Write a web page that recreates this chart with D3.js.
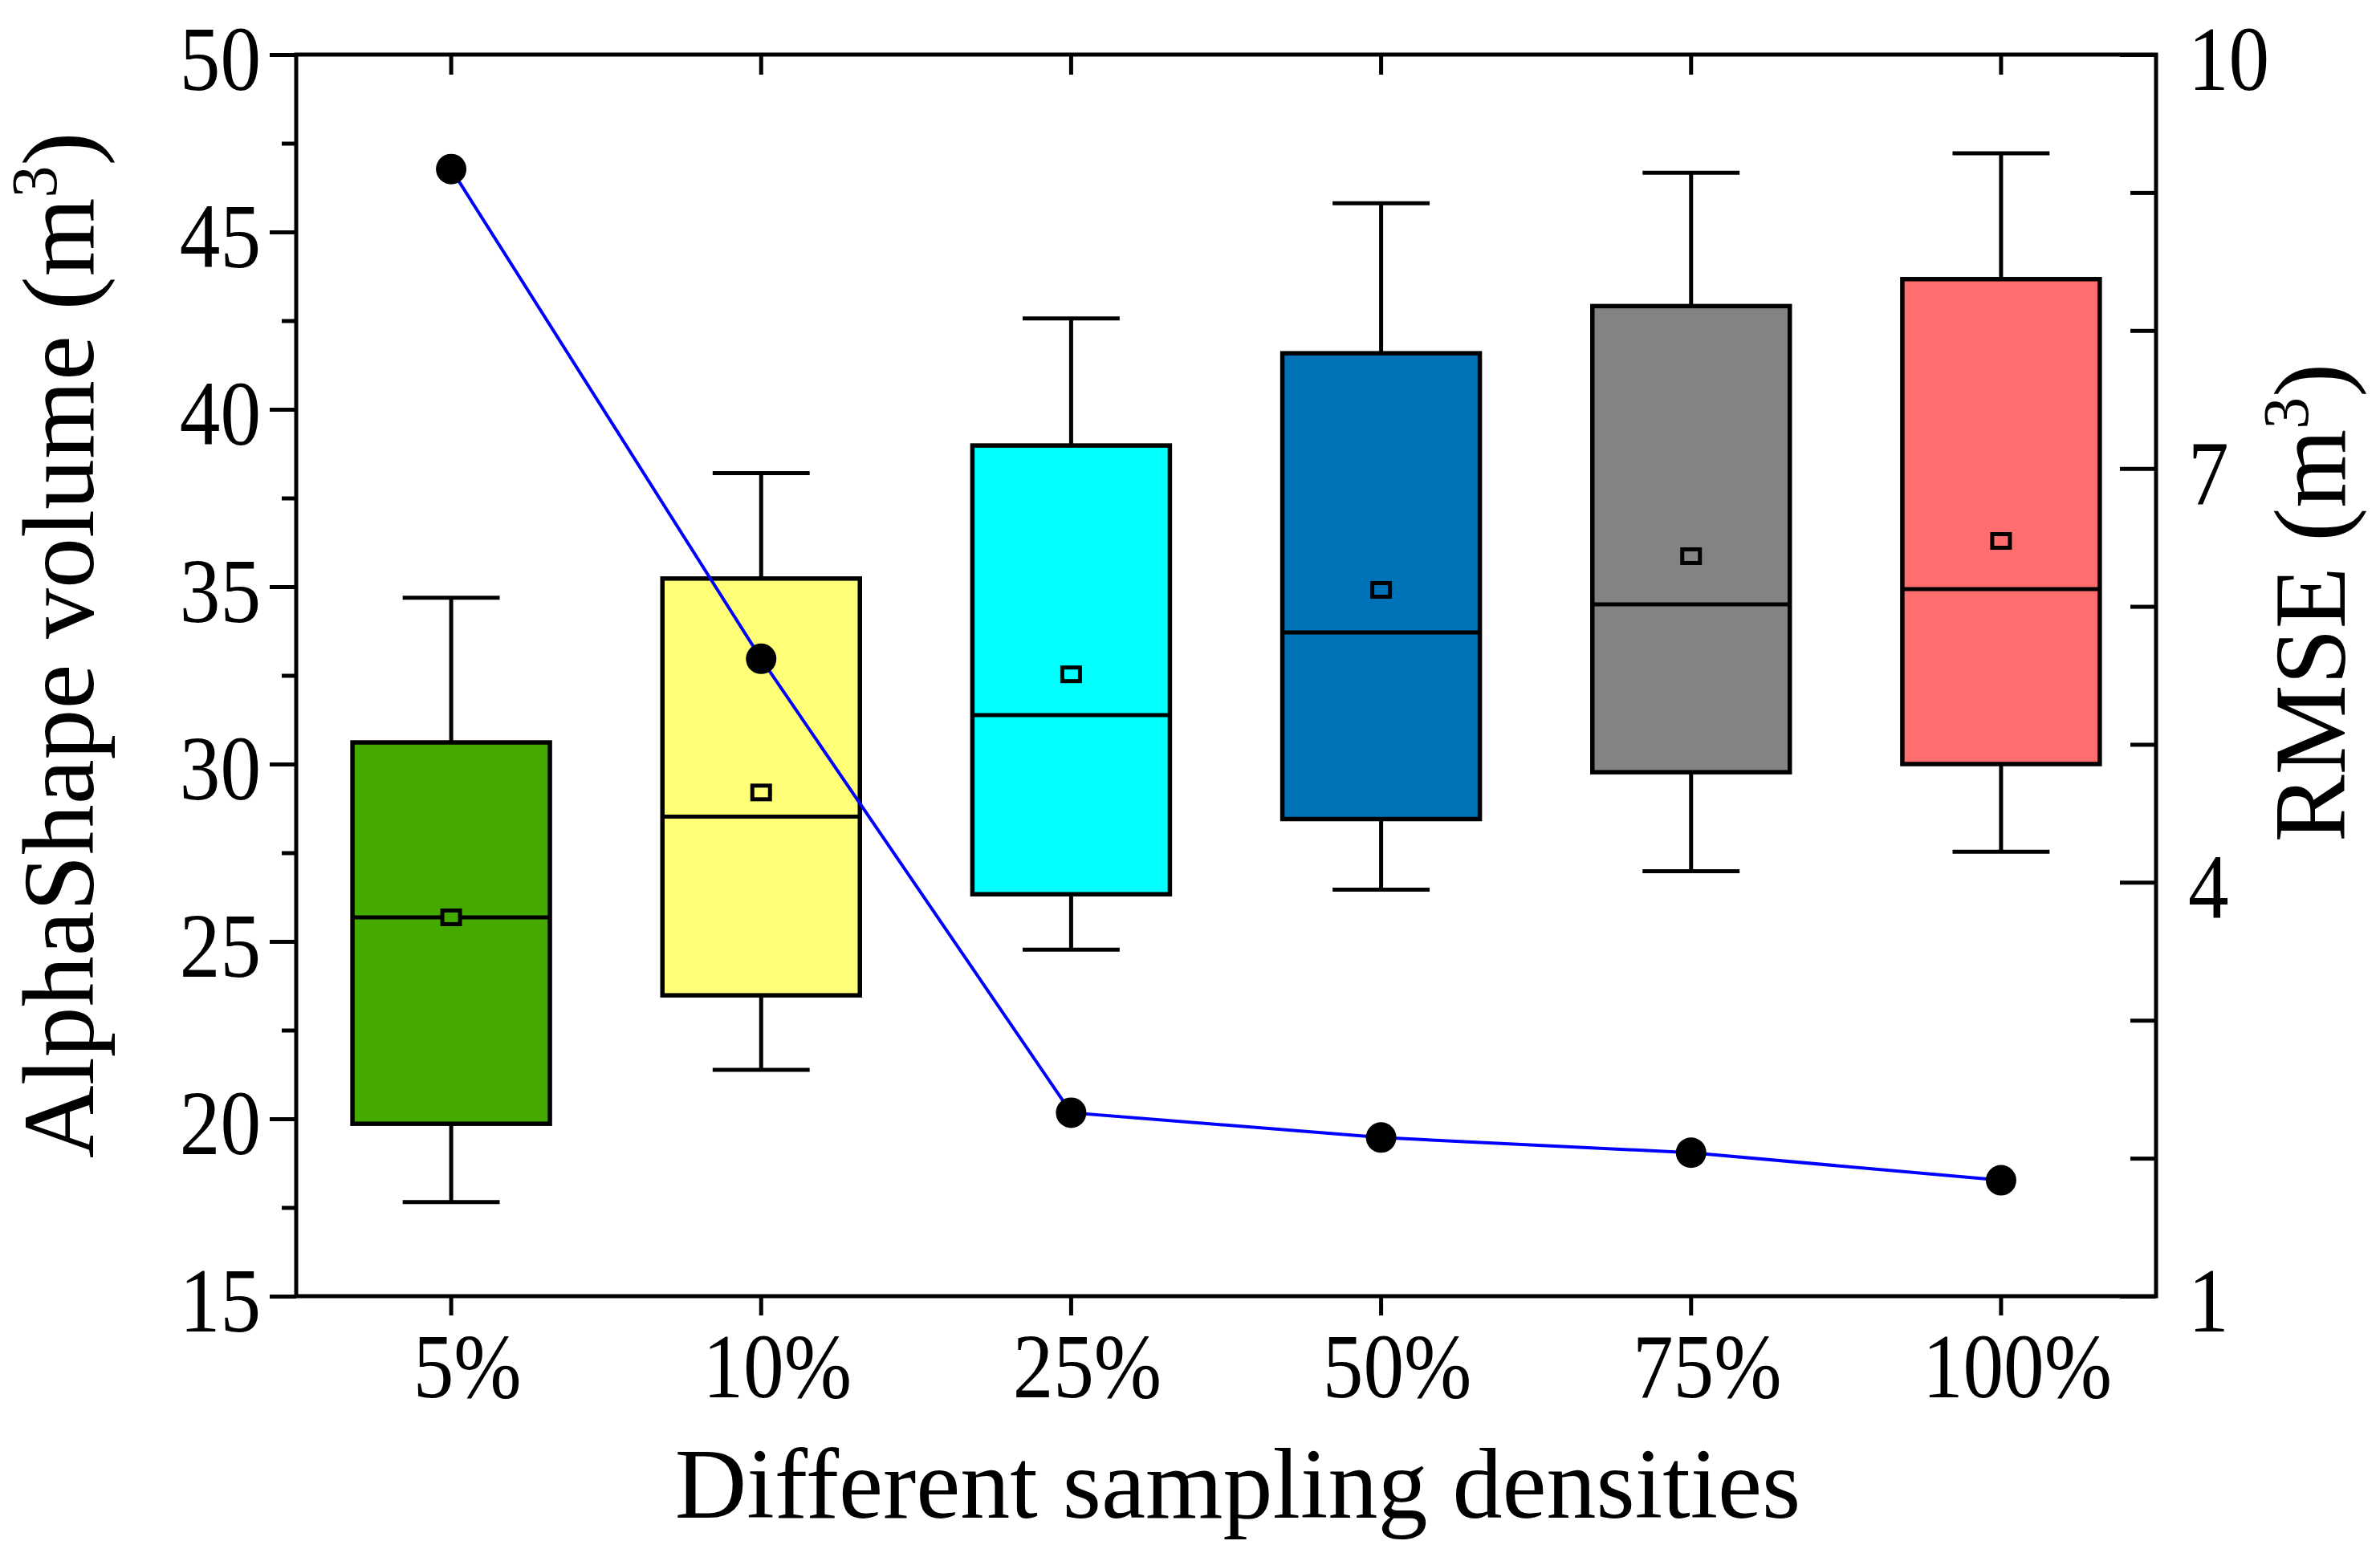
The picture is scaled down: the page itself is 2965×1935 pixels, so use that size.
<!DOCTYPE html>
<html>
<head>
<meta charset="utf-8">
<script src="https://cdn.jsdelivr.net/npm/d3@7"></script>
<style>
  body { margin: 0; background: #fff; }
  text { font-family: "Liberation Serif", "Times New Roman", serif; fill: #000; }
</style>
</head>
<body>
<div id="chart"></div>
<script>
/* values */
var categories  = ['5%', '10%', '25%', '50%', '75%', '100%'];
var whiskerLow  = [17.65, 21.38, 24.77, 26.46, 26.98, 27.53];
var boxLow      = [19.86, 23.48, 26.33, 28.45, 29.77, 30.00];
var medians     = [25.68, 28.52, 31.38, 33.71, 34.50, 34.93];
var means       = [25.68, 29.20, 32.53, 34.91, 35.86, 36.29];
var boxHigh     = [30.61, 35.23, 38.98, 41.58, 42.91, 43.67];
var whiskerHigh = [34.69, 38.20, 42.56, 45.81, 46.67, 47.22];
var rmse        = [9.17, 5.62, 2.33, 2.15, 2.04, 1.84];
var boxColors   = ['#44aa00', '#ffff77', '#00ffff', '#0073b8', '#838383', '#ff6e6e'];
var leftTicks   = [15, 20, 25, 30, 35, 40, 45, 50];
var rightTicks  = [1, 4, 7, 10];

var W = 2965, H = 1935;
var margin = { top: 68, right: 279, bottom: 320, left: 369 };
var width  = W - margin.left - margin.right;
var height = H - margin.top - margin.bottom;

var svg = d3.select('#chart').append('svg')
  .attr('width', W).attr('height', H)
  .style('display', 'block');

svg.append('rect').attr('width', W).attr('height', H).attr('fill', '#fff');

var chart = svg.append('g')
  .attr('transform', 'translate(' + margin.left + ',' + margin.top + ')');

var x = d3.scaleBand().domain(categories).range([0, width]).padding(0);
var y = d3.scaleLinear().domain([15, 50]).range([height, 0]);
var y2 = d3.scaleLinear().domain([1, 10]).range([height, 0]);

var bw = x.bandwidth();
var boxW = bw * 0.637;
var capW = bw * 0.313;
function cx(i) { return x(categories[i]) + bw / 2; }

var rows = categories.map(function (c, i) {
  return { cat: c, i: i, wl: whiskerLow[i], bl: boxLow[i], med: medians[i],
           mean: means[i], bh: boxHigh[i], wh: whiskerHigh[i], rmse: rmse[i],
           color: boxColors[i] };
});

/* ── boxes ── */
var g = chart.selectAll('g.box').data(rows).join('g').attr('class', 'box');

g.append('line')
  .attr('x1', function (d) { return cx(d.i); }).attr('x2', function (d) { return cx(d.i); })
  .attr('y1', function (d) { return y(d.wh); }).attr('y2', function (d) { return y(d.wl); })
  .attr('stroke', '#000').attr('stroke-width', 5);

g.selectAll('line.cap')
  .data(function (d) { return [{ i: d.i, v: d.wh }, { i: d.i, v: d.wl }]; })
  .join('line').attr('class', 'cap')
  .attr('x1', function (d) { return cx(d.i) - capW / 2; })
  .attr('x2', function (d) { return cx(d.i) + capW / 2; })
  .attr('y1', function (d) { return y(d.v); }).attr('y2', function (d) { return y(d.v); })
  .attr('stroke', '#000').attr('stroke-width', 5);

g.append('rect')
  .attr('x', function (d) { return cx(d.i) - boxW / 2; })
  .attr('width', boxW)
  .attr('y', function (d) { return y(d.bh); })
  .attr('height', function (d) { return y(d.bl) - y(d.bh); })
  .attr('fill', function (d) { return d.color; })
  .attr('stroke', '#000').attr('stroke-width', 5.5);

g.append('line')
  .attr('x1', function (d) { return cx(d.i) - boxW / 2; })
  .attr('x2', function (d) { return cx(d.i) + boxW / 2; })
  .attr('y1', function (d) { return y(d.med); }).attr('y2', function (d) { return y(d.med); })
  .attr('stroke', '#000').attr('stroke-width', 5);

g.append('rect')
  .attr('x', function (d) { return cx(d.i) - 11; })
  .attr('y', function (d) { return y(d.mean) - 8.5; })
  .attr('width', 22).attr('height', 17)
  .attr('fill', function (d) { return d.color; })
  .attr('stroke', '#000').attr('stroke-width', 5);

/* ── RMSE line on right axis ── */
var line = d3.line()
  .x(function (d) { return cx(d.i); })
  .y(function (d) { return y2(d.rmse); });

chart.append('path').datum(rows)
  .attr('d', line)
  .attr('fill', 'none')
  .attr('stroke', '#0000ff')
  .attr('stroke-width', 4);

chart.selectAll('circle.pt').data(rows).join('circle').attr('class', 'pt')
  .attr('cx', function (d) { return cx(d.i); })
  .attr('cy', function (d) { return y2(d.rmse); })
  .attr('r', 19)
  .attr('fill', '#000');

/* ── axes ── */
var tickFont = 115, squeeze = 0.88;

function styleAxis(sel) {
  sel.select('.domain').remove();
  sel.selectAll('.tick line').attr('stroke', '#000').attr('stroke-width', 5);
  sel.selectAll('.tick text')
    .attr('font-size', tickFont)
    .style('font-family', '"Liberation Serif", "Times New Roman", serif');
}

var minorLeft = d3.range(17.5, 50, 5);
var minorRight = d3.range(1, 11).filter(function (v) { return rightTicks.indexOf(v) < 0; });

var leftAx = chart.append('g')
  .call(d3.axisLeft(y).tickValues(leftTicks).tickSize(33).tickFormat(d3.format('d')))
  .call(styleAxis);
leftAx.selectAll('.tick text')
  .attr('x', -44 / squeeze).attr('dy', '0.38em')
  .attr('transform', 'scale(' + squeeze + ',1)');

chart.append('g')
  .call(d3.axisLeft(y).tickValues(minorLeft).tickSize(18).tickFormat(''))
  .call(styleAxis);

var rightAx = chart.append('g')
  .attr('transform', 'translate(' + width + ',0)')
  .call(d3.axisRight(y2).tickValues(rightTicks).tickSize(-45).tickFormat(d3.format('d')))
  .call(styleAxis);
rightAx.selectAll('.tick text')
  .attr('x', 40 / squeeze).attr('dy', '0.38em')
  .attr('transform', 'scale(' + squeeze + ',1)');

chart.append('g')
  .attr('transform', 'translate(' + width + ',0)')
  .call(d3.axisRight(y2).tickValues(minorRight).tickSize(-32).tickFormat(''))
  .call(styleAxis);

var bottomAx = chart.append('g')
  .attr('transform', 'translate(0,' + height + ')')
  .call(d3.axisBottom(x).tickSize(24))
  .call(styleAxis);
/* labels sit a little right of their tick in the original */
bottomAx.selectAll('.tick text')
  .attr('y', 126).attr('dy', 0).attr('x', 0)
  .attr('transform', 'translate(20,0) scale(' + squeeze + ',1)');

chart.append('g')
  .call(d3.axisTop(x).tickSize(-25).tickFormat(''))
  .call(styleAxis);

/* frame */
chart.append('rect')
  .attr('width', width).attr('height', height)
  .attr('fill', 'none').attr('stroke', '#000').attr('stroke-width', 5);

/* ── titles ── */
var titleFont = 126;

var yt = svg.append('text')
  .attr('transform', 'translate(116,804) rotate(-90)')
  .attr('text-anchor', 'middle')
  .attr('font-size', titleFont);
yt.append('tspan').text('AlphaShape volume (m');
yt.append('tspan').attr('font-size', 80).attr('dy', -46).text('3');
yt.append('tspan').attr('dy', 46).text(')');

var rt = svg.append('text')
  .attr('transform', 'translate(2921,751) rotate(-90)')
  .attr('text-anchor', 'middle')
  .attr('font-size', titleFont);
rt.append('tspan').text('RMSE (m');
rt.append('tspan').attr('font-size', 80).attr('dy', -46).text('3');
rt.append('tspan').attr('dy', 46).text(')');

svg.append('text')
  .attr('x', 1542).attr('y', 1891)
  .attr('text-anchor', 'middle')
  .attr('font-size', 124)
  .text('Different sampling densities');
</script>
</body>
</html>
